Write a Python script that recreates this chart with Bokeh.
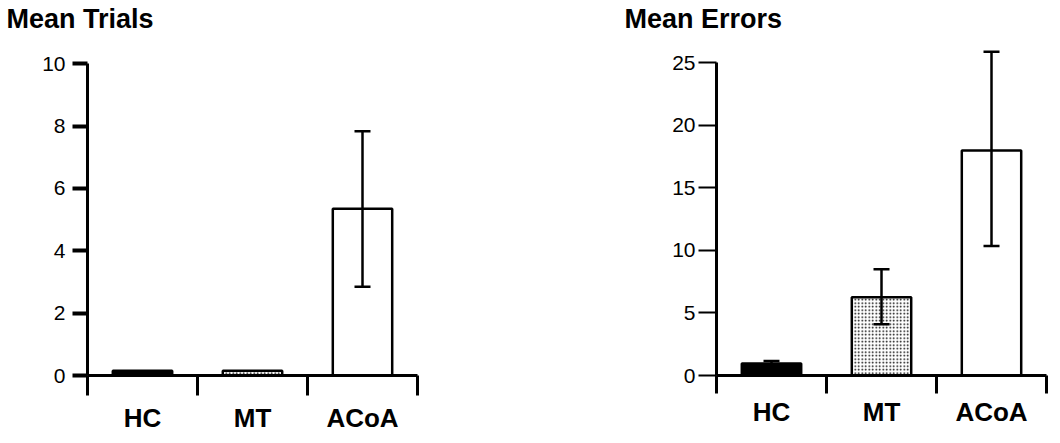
from bokeh.plotting import figure
from bokeh.models import (ColumnDataSource, LinearAxis, Range1d,
                          FixedTicker, Whisker, TeeHead, Title)
from bokeh.layouts import row
from bokeh.embed import file_html
from bokeh.resources import INLINE

categories = ["HC", "MT", "ACoA"]

trials_mean = [0.15, 0.15, 5.35]
trials_low = [0.15, 0.15, 2.85]
trials_high = [0.15, 0.15, 7.84]

errors_mean = [0.95, 6.25, 18.0]
errors_low = [0.7, 4.1, 10.35]
errors_high = [1.15, 8.5, 25.9]

fills = ["black", "white", "white"]
hatches = [" ", "dot", " "]

trials_ticks = [0, 2, 4, 6, 8, 10]
errors_ticks = [0, 5, 10, 15, 20, 25]

FONT = "Liberation Sans"


def make_panel(title, means, lows, highs, ticks, y_end, bounds, width, height,
               mb_left, mb_right, mb_top, mb_bottom, title_offset, title_standoff,
               ytick_out, ytick_w, ylab_standoff, xtick_out, xlab_standoff):
    p = figure(x_range=categories, y_range=Range1d(0, y_end), width=width, height=height,
               output_backend="svg", toolbar_location=None,
               x_axis_location=None, y_axis_location=None,
               min_border_left=mb_left, min_border_right=mb_right,
               min_border_top=mb_top, min_border_bottom=mb_bottom)
    p.outline_line_color = None
    p.xgrid.visible = False
    p.ygrid.visible = False
    p.background_fill_color = "white"
    p.border_fill_color = "white"

    p.title = Title(text=title, text_font=FONT, text_font_size="27px",
                    text_font_style="bold", text_color="black", align="left",
                    text_line_height=1.0,
                    offset=title_offset, standoff=title_standoff)

    yaxis = LinearAxis(ticker=FixedTicker(ticks=ticks), bounds=bounds,
                       axis_line_width=3, axis_line_color="black",
                       major_tick_out=ytick_out, major_tick_in=0,
                       major_tick_line_width=ytick_w, major_tick_line_color="black",
                       minor_tick_line_color=None,
                       major_label_text_font=FONT, major_label_text_font_size="21px",
                       major_label_text_color="black",
                       major_label_standoff=ylab_standoff)
    p.add_layout(yaxis, "left")

    # one x axis on the synthetic categorical coordinates:
    # labels at category centres, visible (minor) ticks at category boundaries
    n = len(categories)
    centres = [i + 0.5 for i in range(n)]
    edges = list(range(n + 1))
    xaxis = LinearAxis(ticker=FixedTicker(ticks=centres, minor_ticks=edges),
                       major_label_overrides={c: name for c, name in zip(centres, categories)},
                       axis_line_width=3, axis_line_color="black",
                       major_tick_out=xtick_out, major_tick_in=0,
                       major_tick_line_color=None,
                       minor_tick_out=xtick_out, minor_tick_in=0,
                       minor_tick_line_width=3, minor_tick_line_color="black",
                       major_label_text_font=FONT,
                       major_label_text_font_size="26px",
                       major_label_text_font_style="bold",
                       major_label_text_color="black",
                       major_label_standoff=xlab_standoff)
    p.add_layout(xaxis, "below")

    src = ColumnDataSource(dict(x=categories, top=means, fill=fills, hatch=hatches))
    p.vbar(x="x", top="top", bottom=0, width=0.54, source=src,
           fill_color="fill", line_color="black", line_width=2.5,
           hatch_pattern="hatch", hatch_color="black", hatch_scale=3.5,
           hatch_weight=2.4)

    wx, wl, wh = [], [], []
    for c, lo, hi in zip(categories, lows, highs):
        if hi > lo:
            wx.append(c)
            wl.append(lo)
            wh.append(hi)
    wsrc = ColumnDataSource(dict(x=wx, lower=wl, upper=wh))
    w = Whisker(base="x", lower="lower", upper="upper", source=wsrc,
                line_color="black", line_width=2.5, level="annotation",
                upper_head=TeeHead(size=16, line_width=2.5, line_color="black"),
                lower_head=TeeHead(size=16, line_width=2.5, line_color="black"))
    p.add_layout(w)
    return p


p1 = make_panel("Mean Trials", trials_mean, trials_low, trials_high, trials_ticks,
                10.94, (0, 10), 440, 435, 87, 23, 29, 57, -81, 2,
                15, 4, 7, 20, 7)
p2 = make_panel("Mean Errors", errors_mean, errors_low, errors_high, errors_ticks,
                27.27, (0, 25), 610, 435, 276, 4, 29, 57, -92, 2,
                18, 2, 3, 18, 3)

layout = row(p1, p2)
open("out.html", "w").write(file_html(layout, INLINE))
